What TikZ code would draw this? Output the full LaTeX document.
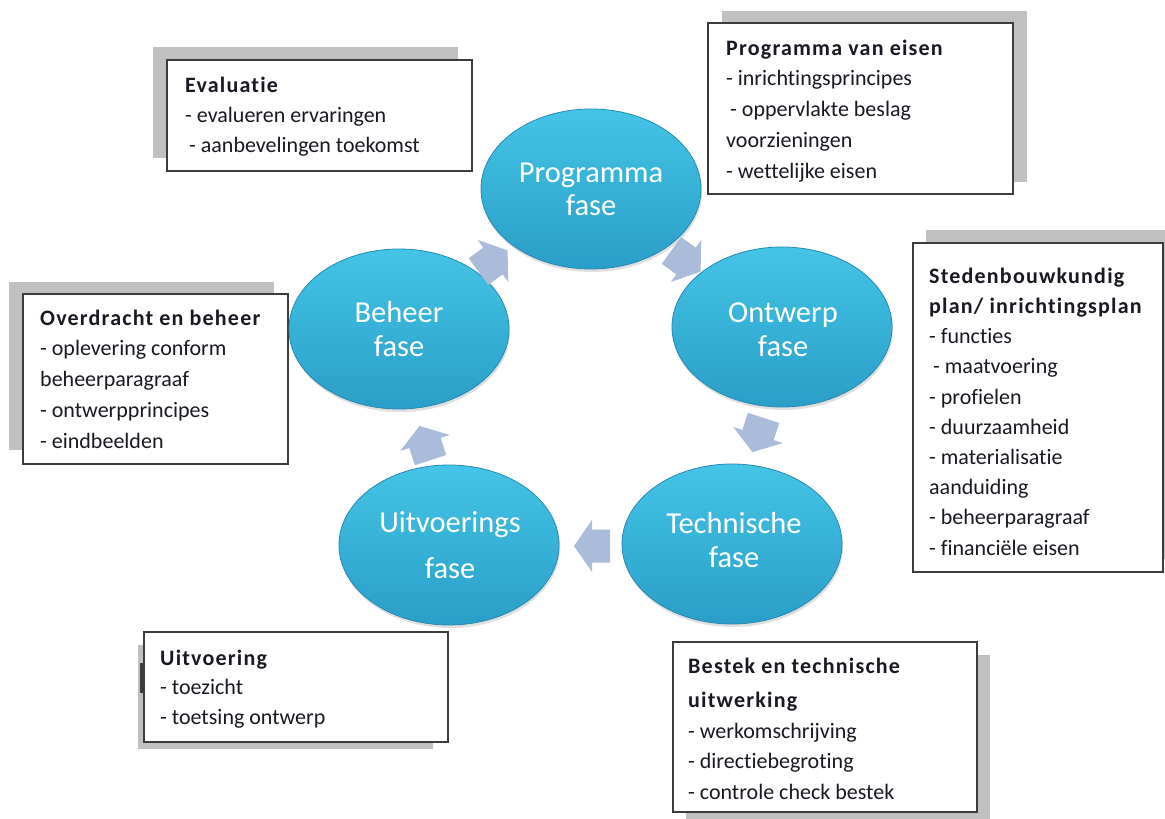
\documentclass[tikz,border=0pt]{standalone}
\usepackage{fontspec}
\setmainfont{Carlito}[Ligatures=NoCommon]
\newfontfamily\titlefont{Carlito}[LetterSpace=5.5, Ligatures=NoCommon]
\usetikzlibrary{shapes.geometric,shadows}
\definecolor{ellTop}{RGB}{68,196,230}
\definecolor{ellMid}{RGB}{52,178,216}
\definecolor{ellBot}{RGB}{42,158,200}
\definecolor{ellEdge}{RGB}{38,138,178}
\definecolor{arrowc}{RGB}{170,188,218}
\definecolor{shadowc}{RGB}{192,192,192}
\definecolor{boxedge}{RGB}{60,60,60}
\definecolor{boxtextc}{RGB}{25,25,35}
\newcommand{\ttl}[1]{{\titlefont\bfseries #1}}
\begin{document}
\begin{tikzpicture}[x=1pt,y=-1pt,
  phase/.style={ellipse, minimum width=220pt, minimum height=160pt, inner sep=0pt,
    top color=ellTop, middle color=ellMid, bottom color=ellBot, draw=ellEdge, line width=0.8pt,
    drop shadow={shadow xshift=1pt, shadow yshift=-3pt, opacity=0.25}},
  phaselabel/.style={anchor=base, inner sep=0pt, align=center, text=white, font=\fontsize{30.5}{#1}\selectfont},
  flow/.style={fill=arrowc, draw=none},
  infobox/.style={draw=boxedge, line width=1.3pt, fill=white},
  shadowbox/.style={fill=shadowc, draw=none},
  boxtext/.style={anchor=base west, inner sep=0pt, align=left, text=boxtextc, font=\fontsize{22}{#1}\selectfont}
]
\fill[white] (0,0) rectangle (1165,819);
\useasboundingbox (0,0) rectangle (1165,819);

% info boxes with shadows (text nodes anchored at the baseline of their last line)
\fill[shadowbox] (153,47) rectangle (458,158);
\filldraw[infobox] (167,60) rectangle (472,171);
\node[boxtext=30] (tEval) at (185,152) {\ttl{Evaluatie}\\- evalueren ervaringen\\\hspace*{4pt}- aanbevelingen toekomst};

\fill[shadowbox] (722,11) rectangle (1027,182);
\filldraw[infobox] (708,23) rectangle (1013,194);
\node[boxtext=30.75] (tPvE) at (726,178) {\ttl{Programma van eisen}\\- inrichtingsprincipes\\\hspace*{4pt}- oppervlakte beslag\\voorzieningen\\- wettelijke eisen};

\fill[shadowbox] (926,230) rectangle (1165,559);
\filldraw[infobox] (913,243) rectangle (1163,572);
\node[boxtext=30.2] (tSted) at (929,555) {\ttl{Stedenbouwkundig}\\\ttl{plan/ inrichtingsplan}\\- functies\\\hspace*{4pt}- maatvoering\\- profielen\\- duurzaamheid\\- materialisatie\\aanduiding\\- beheerparagraaf\\- financiële eisen};

\fill[shadowbox] (9,282) rectangle (274,450);
\filldraw[infobox] (23,294) rectangle (288,464);
\node[boxtext=30.75] (tOver) at (40,448) {\ttl{Overdracht en beheer}\\- oplevering conform\\beheerparagraaf\\- ontwerpprincipes\\- eindbeelden};

\fill[shadowbox] (138,645) rectangle (433,749);
\fill[boxedge] (140,663) rectangle (143,693);
\filldraw[infobox] (144,632) rectangle (448,742);
\node[boxtext=29.5] (tUitv) at (160,724) {\ttl{Uitvoering}\\- toezicht\\- toetsing ontwerp};

\fill[shadowbox] (686,655) rectangle (990,819);
\filldraw[infobox] (673,642) rectangle (977,812);
\node[boxtext=30.5] (tBest) at (688,799) {\ttl{Bestek en technische}\\[4pt]\ttl{uitwerking}\\- werkomschrijving\\- directiebegroting\\- controle check bestek};

% phase ellipses
\node[phase] (P) at (591,189) {};
\node[phase] (O) at (782,327) {};
\node[phase] (T) at (732,544) {};
\node[phase] (U) at (449,545) {};
\node[phase] (B) at (399,329) {};

\node[phaselabel=33] (lP) at (591,215) {Programma\\fase};
\node[phaselabel=34] (lO) at (783,356) {Ontwerp\\fase};
\node[phaselabel=34] (lT) at (734,567) {Technische\\fase};
\node[phaselabel=46] (lU) at (450,578) {Uitvoerings\\fase};
\node[phaselabel=34] (lB) at (399,356) {Beheer\\fase};

% cycle arrows (block arrows between the phases)
\foreach \px/\py/\ang in {493/261/36, 686/261/-36, 758/435/-108, 592/546/180, 425/443/108}{
  \begin{scope}[shift={(\px,\py)}, rotate=\ang]
    \fill[flow] (-18,-16.5) -- (0,-16.5) -- (0,-26) -- (18,0) -- (0,26) -- (0,16.5) -- (-18,16.5) -- cycle;
  \end{scope}
}
\end{tikzpicture}
\end{document}
